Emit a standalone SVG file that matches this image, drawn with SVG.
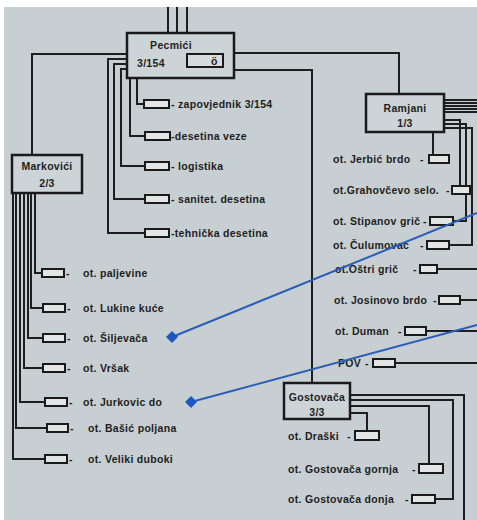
<svg xmlns="http://www.w3.org/2000/svg" width="477" height="520" viewBox="0 0 477 520">
<style>
  .bg{fill:#c7cfd3}
  .w{fill:none;stroke:#1e1e1e;stroke-width:2;stroke-linejoin:miter}
  .box{fill:#cdd4d7;stroke:#1a1a1a;stroke-width:2.5}
  .st{fill:#e2e5e3;stroke:#1a1a1a;stroke-width:2}
  text{font-family:"Liberation Sans",Arial,sans-serif;font-weight:bold;font-size:10.5px;fill:#1e1e1e;letter-spacing:0.3px}
  .c{text-anchor:middle}
  .blue{fill:none;stroke:#2a5cb8;stroke-width:2}
  .dia{fill:#1f57c0}
</style>
<rect x="0" y="0" width="477" height="520" fill="#ffffff"/>
<rect class="bg" x="4" y="7" width="473" height="513"/>

<g id="connectors">
  <!-- top feeds into Pecmici -->
  <path class="w" d="M168,7V33M177,7V33M187,7V33"/>
  <!-- Pecmici to Ramjani and Gostovaca -->
  <path class="w" d="M234,53H399V94"/>
  <path class="w" d="M234,70H312V383"/>
  <!-- Pecmici to Markovici -->
  <path class="w" d="M127,54H32V155"/>
  <!-- Pecmici stations -->
  <path class="w" d="M137,78V104H144"/>
  <path class="w" d="M130,78V136H145"/>
  <path class="w" d="M127,69H121V166H145"/>
  <path class="w" d="M127,64H114V199H145"/>
  <path class="w" d="M127,59H108V233H145"/>
  <!-- Markovici stations -->
  <path class="w" d="M35,193V273H42"/>
  <path class="w" d="M31,193V308H43"/>
  <path class="w" d="M28,193V338H43"/>
  <path class="w" d="M24,193V368H43"/>
  <path class="w" d="M20,193V402H45"/>
  <path class="w" d="M16,193V428H47"/>
  <path class="w" d="M13,193V459H45"/>
  <!-- Ramjani stations -->
  <path class="w" d="M444,100H477M444,103H477M444,106H477M444,109H477M444,112H477"/>
  <path class="w" d="M433,132V155"/>
  <path class="w" d="M444,120H460V186"/>
  <path class="w" d="M444,124H466V221H453"/>
  <path class="w" d="M444,128H472V245H449"/>
  <path class="w" d="M437,269H477"/>
  <path class="w" d="M460,300H477"/>
  <path class="w" d="M426,331H477"/>
  <path class="w" d="M395,363H477"/>
  <!-- Gostovaca stations -->
  <path class="w" d="M350,395H464V520"/>
  <path class="w" d="M350,400H453V499H435"/>
  <path class="w" d="M350,406H429V464"/>
  <path class="w" d="M350,413H367V431"/>
</g>

<g id="pecmici">
  <rect class="box" x="127" y="33" width="107" height="45"/>
  <text class="c" x="171" y="49">Pecmići</text>
  <text x="137" y="67">3/154</text>
  <rect x="187" y="54" width="36" height="13" fill="#d6dbdc" stroke="#1a1a1a" stroke-width="2"/>
  <text x="211" y="65" font-size="10px">ö</text>
</g>
<g id="ramjani">
  <rect class="box" x="366" y="94" width="78" height="38"/>
  <text class="c" x="405" y="112">Ramjani</text>
  <text class="c" x="405" y="127">1/3</text>
</g>
<g id="markovici">
  <rect class="box" x="12" y="155" width="70" height="38"/>
  <text class="c" x="47" y="170">Markovići</text>
  <text class="c" x="47" y="187">2/3</text>
</g>
<g id="gostovaca">
  <rect class="box" x="284" y="383" width="66" height="36"/>
  <text class="c" x="317" y="401">Gostovača</text>
  <text class="c" x="317" y="416">3/3</text>
</g>

<!-- Pecmici stations -->
<g id="zapovjednik"><rect class="st" x="144" y="100" width="25" height="8"/><text x="171" y="108">- zapovjednik 3/154</text></g>
<g id="desetina-veze"><rect class="st" x="145" y="132" width="25" height="8"/><text x="171" y="140">-desetina veze</text></g>
<g id="logistika"><rect class="st" x="145" y="162" width="24" height="8"/><text x="171" y="170">- logistika</text></g>
<g id="sanitet"><rect class="st" x="145" y="195" width="24" height="8"/><text x="171" y="203">- sanitet. desetina</text></g>
<g id="tehnicka"><rect class="st" x="145" y="229" width="24" height="8"/><text x="171" y="237">-tehnička desetina</text></g>

<!-- Markovici stations -->
<g id="paljevine"><rect class="st" x="42" y="269" width="22" height="8"/><text x="66" y="277">-</text><text x="83" y="277">ot. paljevine</text></g>
<g id="lukine-kuce"><rect class="st" x="43" y="304" width="22" height="8"/><text x="67" y="312">-</text><text x="83" y="312">ot. Lukine kuće</text></g>
<g id="siljevaca"><rect class="st" x="43" y="334" width="22" height="8"/><text x="67" y="342">-</text><text x="83" y="342">ot. Šiljevača</text></g>
<g id="vrsak"><rect class="st" x="43" y="364" width="22" height="8"/><text x="67" y="372">-</text><text x="83" y="372">ot. Vršak</text></g>
<g id="jurkovic-do"><rect class="st" x="45" y="398" width="22" height="8"/><text x="69" y="406">-</text><text x="83" y="406">ot. Jurkovic do</text></g>
<g id="basic-poljana"><rect class="st" x="47" y="424" width="21" height="8"/><text x="70" y="432">-</text><text x="88" y="432">ot. Bašić poljana</text></g>
<g id="veliki-duboki"><rect class="st" x="45" y="455" width="22" height="8"/><text x="69" y="463">-</text><text x="88" y="463">ot. Veliki duboki</text></g>

<!-- Ramjani stations -->
<g id="jerbic-brdo"><rect class="st" x="429" y="155" width="20" height="8"/><text x="333" y="163">ot. Jerbić brdo</text><text x="420" y="163">-</text></g>
<g id="grahovcevo-selo"><rect class="st" x="452" y="186" width="18" height="8"/><text x="333" y="194">ot.Grahovčevo selo.</text><text x="446" y="194">-</text></g>
<g id="stipanov-gric"><rect class="st" x="430" y="217" width="23" height="8"/><text x="333" y="225">ot. Stipanov grič</text><text x="423" y="225">-</text></g>
<g id="culumovac"><rect class="st" x="427" y="241" width="22" height="8"/><text x="333" y="249">ot. Čulumovac</text><text x="420" y="249">-</text></g>
<g id="ostri-gric"><rect class="st" x="420" y="265" width="17" height="8"/><text x="335" y="273">ot.Oštri grič</text><text x="413" y="273">-</text></g>
<g id="josinovo-brdo"><rect class="st" x="439" y="296" width="21" height="8"/><text x="334" y="304">ot. Josinovo brdo</text><text x="433" y="304">-</text></g>
<g id="duman"><rect class="st" x="405" y="327" width="21" height="8"/><text x="335" y="335">ot. Duman</text><text x="398" y="335">-</text></g>
<g id="pov"><rect class="st" x="373" y="359" width="22" height="8"/><text x="338" y="367">POV</text><text x="365" y="367">-</text></g>

<!-- Gostovaca stations -->
<g id="draski"><rect class="st" x="355" y="431" width="24" height="9"/><text x="288" y="440">ot. Draški</text><text x="347" y="440">-</text></g>
<g id="gostovaca-gornja"><rect class="st" x="419" y="464" width="24" height="9"/><text x="288" y="473">ot. Gostovača gornja</text><text x="412" y="473">-</text></g>
<g id="gostovaca-donja"><rect class="st" x="412" y="495" width="23" height="8"/><text x="288" y="503">ot. Gostovača donja</text><text x="405" y="503">-</text></g>

<g id="pointers">
  <path class="blue" d="M172,337L477,213"/>
  <path class="blue" d="M191,402L477,325"/>
  <polygon class="dia" points="172,331 178,337 172,343 166,337"/>
  <polygon class="dia" points="191,396 197,402 191,408 185,402"/>
</g>
</svg>
